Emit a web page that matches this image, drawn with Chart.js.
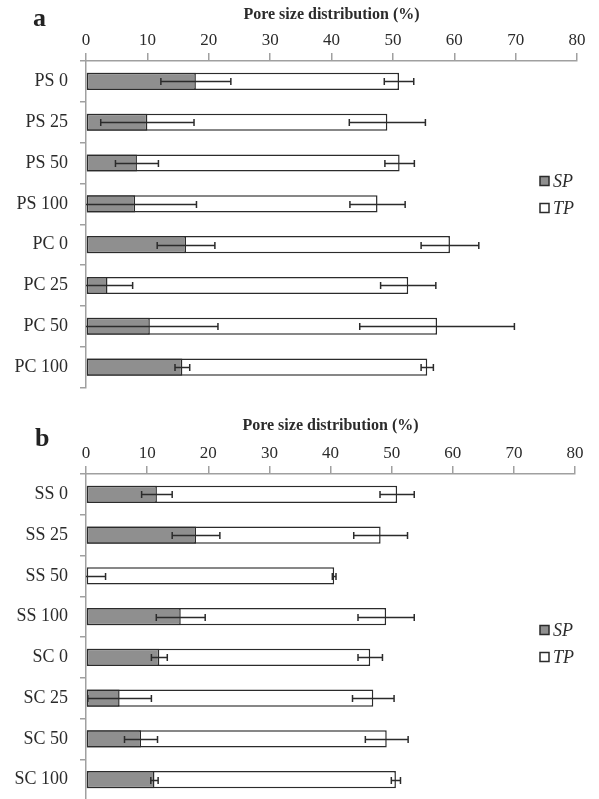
<!DOCTYPE html>
<html>
<head>
<meta charset="utf-8">
<script src="https://cdn.jsdelivr.net/npm/chart.js@4/dist/chart.umd.min.js"></script>
<style>
  html, body { margin: 0; padding: 0; background: #fff; overflow: hidden; }
  body { width: 599px; height: 799px; position: relative; }
  .panel { position: absolute; left: 0; width: 599px; height: 400px; }
  .tag { position: absolute; font: bold 26px "Liberation Serif", serif; line-height: 26px; color: #222; }
</style>
</head>
<body>
<div class="panel" style="top:0"><canvas id="chartA" width="599" height="400"></canvas></div>
<div class="panel" style="top:400px"><canvas id="chartB" width="599" height="400"></canvas></div>
<div class="tag" style="left:33px; top:5px">a</div>
<div class="tag" style="left:35px; top:425px">b</div>
<script>
// Panel a: PS / PC samples
const categoriesA = ['PS 0', 'PS 25', 'PS 50', 'PS 100', 'PC 0', 'PC 25', 'PC 50', 'PC 100'];
const spA    = [17.9, 10.0, 8.3, 8.0, 16.3, 3.5, 10.4, 15.7];
const spErrA = [5.7, 7.6, 3.5, 10.0, 4.7, 4.1, 11.1, 1.2];
const tpA    = [51.0, 49.1, 51.1, 47.5, 59.3, 52.5, 57.2, 55.6];
const tpErrA = [2.4, 6.2, 2.4, 4.5, 4.7, 4.5, 12.6, 1.0];

// Panel b: SS / SC samples
const categoriesB = ['SS 0', 'SS 25', 'SS 50', 'SS 100', 'SC 0', 'SC 25', 'SC 50', 'SC 100'];
const spB    = [11.6, 18.0, 0, 15.5, 12.0, 5.5, 9.0, 11.2];
const spErrB = [2.5, 3.9, 3.2, 4.0, 1.3, 5.2, 2.7, 0.6];
const tpB    = [50.9, 48.2, 40.6, 49.1, 46.5, 47.0, 49.2, 50.7];
const tpErrB = [2.8, 4.4, 0.3, 4.6, 2.0, 3.4, 3.5, 0.75];

const xTicks = [0, 10, 20, 30, 40, 50, 60, 70, 80];
const seriesNames = ['SP', 'TP'];
const axisTitle = 'Pore size distribution (%)';

const SERIF = '"Liberation Serif", "Times New Roman", serif';
const INK = '#2b2b2b';
const AXIS = '#a0a0a0';

// symmetric error bars, clipped at the left edge of the value axis
const errorBars = {
  id: 'errorBars',
  afterDatasetsDraw(chart) {
    const { ctx, scales: { x } } = chart;
    ctx.save();
    ctx.strokeStyle = INK;
    ctx.lineWidth = 1.5;
    chart.data.datasets.forEach((ds, i) => {
      const meta = chart.getDatasetMeta(i);
      meta.data.forEach((bar, j) => {
        const v = ds.data[j], e = ds.errors[j];
        const lo = v - e, hi = v + e;
        const y = Math.round(bar.y) + 0.5;
        const xl = x.getPixelForValue(Math.max(lo, x.min));
        const xr = x.getPixelForValue(hi);
        ctx.beginPath();
        ctx.moveTo(xl, y); ctx.lineTo(xr, y);
        if (lo >= x.min) { ctx.moveTo(xl, y - 3.5); ctx.lineTo(xl, y + 3.5); }
        ctx.moveTo(xr, y - 3.5); ctx.lineTo(xr, y + 3.5);
        ctx.stroke();
      });
    });
    ctx.restore();
  }
};

// swatch legend placed beside the bars
const sideLegend = {
  id: 'sideLegend',
  afterDraw(chart, args, opts) {
    const { ctx } = chart;
    ctx.save();
    chart.data.datasets.forEach((ds, i) => {
      const y = opts.y + i * opts.gap;
      ctx.fillStyle = ds.backgroundColor;
      ctx.strokeStyle = INK;
      ctx.lineWidth = 1.5;
      ctx.fillRect(opts.x, y - 4.5, 9, 9);
      ctx.strokeRect(opts.x, y - 4.5, 9, 9);
      ctx.fillStyle = INK;
      ctx.font = 'italic 18px ' + SERIF;
      ctx.textBaseline = 'middle';
      ctx.textAlign = 'left';
      ctx.fillText(ds.label, opts.x + 13, y + 1);
    });
    ctx.restore();
  }
};

function makeChart(id, cats, sp, spErr, tp, tpErr, geom) {
  return new Chart(document.getElementById(id), {
    type: 'bar',
    data: {
      labels: cats,
      datasets: [
        { label: seriesNames[0], data: sp, errors: spErr, backgroundColor: '#8f8f8f' },
        { label: seriesNames[1], data: tp, errors: tpErr, backgroundColor: '#ffffff' }
      ]
    },
    options: {
      responsive: false,
      animation: false,
      devicePixelRatio: 1,
      indexAxis: 'y',
      layout: { padding: { left: 0, right: geom.right, top: 0, bottom: geom.bottom } },
      datasets: {
        bar: {
          grouped: false,
          borderColor: INK,
          borderWidth: 1.5,
          borderSkipped: false,
          categoryPercentage: 1,
          barPercentage: 0.42
        }
      },
      scales: {
        x: {
          position: 'top',
          min: 0, max: 80,
          afterBuildTicks: s => { s.ticks = xTicks.map(v => ({ value: v })); },
          afterFit: s => { s.height = geom.axisH; },
          grid: { drawOnChartArea: false, tickLength: 8, color: AXIS, lineWidth: 1.5 },
          border: { color: AXIS, width: 1.5 },
          ticks: { color: INK, padding: 2, font: { family: SERIF, size: 17 } },
          title: {
            display: true, text: axisTitle, color: INK,
            font: { family: SERIF, size: 16, weight: 'bold' },
            padding: { top: geom.titleTop, bottom: 0 }
          }
        },
        y: {
          afterFit: s => { s.width = 86; s.paddingTop = 0; s.paddingBottom = 0; },
          grid: { drawOnChartArea: false, tickLength: 6, color: AXIS, lineWidth: 1.5 },
          border: { color: AXIS, width: 1.5 },
          ticks: { color: INK, padding: 12, font: { family: SERIF, size: 18 } }
        }
      },
      plugins: {
        legend: { display: false },
        tooltip: { enabled: false },
        sideLegend: { x: geom.legX, y: geom.legY, gap: 27 }
      }
    },
    plugins: [errorBars, sideLegend]
  });
}

makeChart('chartA', categoriesA, spA, spErrA, tpA, tpErrA,
  { right: 22, bottom: 12.5, axisH: 61, titleTop: 5, legX: 540, legY: 181 });
makeChart('chartB', categoriesB, spB, spErrB, tpB, tpErrB,
  { right: 24, bottom: 0, axisH: 74, titleTop: 16, legX: 540, legY: 230 });
</script>
</body>
</html>
